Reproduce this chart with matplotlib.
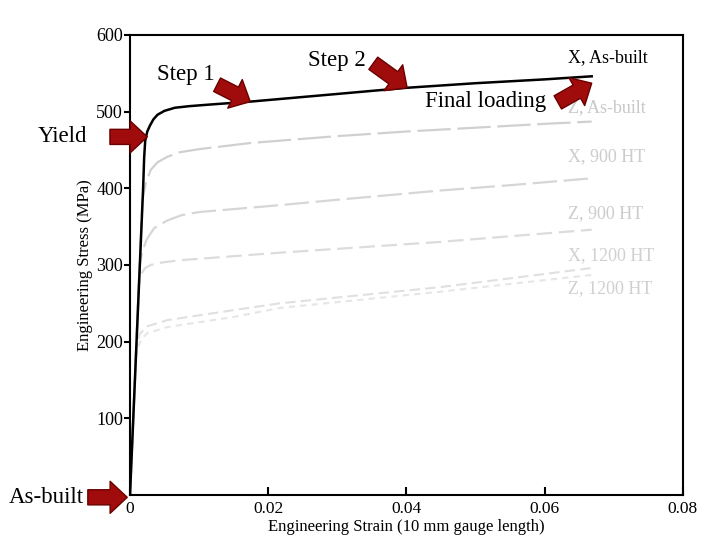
import matplotlib

matplotlib.use("Agg")
import matplotlib.pyplot as plt

plt.rcParams["font.family"] = ["Liberation Serif", "DejaVu Serif"]

# strain / stress (MPa)
x_asb_strain = [0, 0.0019, 0.00205, 0.0022, 0.0025, 0.0029, 0.0034, 0.004, 0.005, 0.0065, 0.0085,
                0.0113, 0.0174, 0.03, 0.04, 0.05, 0.06, 0.0668]
x_asb_stress = [0, 400, 440, 462, 474, 482, 490, 496, 501, 505, 507, 509, 513, 523, 531, 537, 542, 546]

z_asb_strain = [0, 0.0018, 0.0023, 0.003, 0.004, 0.0054, 0.0072, 0.01, 0.0174, 0.03, 0.04, 0.05, 0.06, 0.0668]
z_asb_stress = [0, 385, 407, 424, 434, 441, 447, 451, 459, 468, 474, 479, 484, 487]

x_900_strain = [0, 0.0014, 0.0018, 0.0024, 0.0035, 0.0054, 0.0075, 0.01, 0.0217, 0.03, 0.0448, 0.055, 0.0668]
x_900_stress = [0, 300, 318, 333, 348, 358, 365, 369, 378, 385, 397, 404, 413]

z_900_strain = [0, 0.0013, 0.0016, 0.0022, 0.003, 0.0045, 0.007, 0.0217, 0.0448, 0.0668]
z_900_stress = [0, 275, 288, 296, 300, 303, 306, 316, 330, 346]

x_1200_strain = [0, 0.0009, 0.0014, 0.0025, 0.0054, 0.0149, 0.0217, 0.0448, 0.0668]
x_1200_stress = [0, 190, 210, 220, 228, 241, 250, 271, 296]

z_1200_strain = [0, 0.0009, 0.0012, 0.0016, 0.0025, 0.0054, 0.0149, 0.0217, 0.0448, 0.0668]
z_1200_stress = [0, 180, 193, 203, 211, 219, 232, 244, 265, 287]

curve_labels = ["X, As-built", "Z, As-built", "X, 900 HT", "Z, 900 HT", "X, 1200 HT", "Z, 1200 HT"]
label_stress = [571, 505, 441, 367, 312, 269]

x_ticks = [0, 0.02, 0.04, 0.06, 0.08]
x_tick_labels = ["0", "0.02", "0.04", "0.06", "0.08"]
y_ticks = [100, 200, 300, 400, 500, 600]

ARROW_FC = "#a00c0c"
ARROW_EC = "#6a0000"

fig = plt.figure(figsize=(7.08, 5.41), dpi=100)
ax = fig.add_axes([0.1836, 0.085, 0.781, 0.8505])

ax.plot(z_1200_strain, z_1200_stress, color="#e6e6e6", lw=1.5, dashes=(3, 2.5))
ax.plot(x_1200_strain, x_1200_stress, color="#e0e0e0", lw=1.5, dashes=(5, 2.5))
ax.plot(z_900_strain, z_900_stress, color="#dcdcdc", lw=1.6, dashes=(7, 3))
ax.plot(x_900_strain, x_900_stress, color="#d6d6d6", lw=1.6, dashes=(11, 3))
ax.plot(z_asb_strain, z_asb_stress, color="#d0d0d0", lw=1.6, dashes=(15, 3))
ax.plot(x_asb_strain, x_asb_stress, color="black", lw=1.8)

label_colors = ["black", "#c8c8c8", "#cccccc", "#cccccc", "#d0d0d0", "#d0d0d0"]
for name, s, c in zip(curve_labels, label_stress, label_colors):
    ax.text(0.0634, s, name, color=c, fontsize=13, va="center", ha="left")

ax.set_xlim(0, 0.08)
ax.set_ylim(0, 600)
ax.set_xticks(x_ticks)
ax.set_xticklabels(x_tick_labels)
ax.set_yticks(y_ticks)
ax.tick_params(axis="x", direction="in", length=6, width=1.5, labelsize=12.5, pad=4)
ax.tick_params(axis="y", direction="out", length=4, width=1.5, labelsize=13, pad=1)
for sp in ax.spines.values():
    sp.set_linewidth(1.5)

ax.set_xlabel("Engineering Strain (10 mm gauge length)", fontsize=12, labelpad=2)
ax.set_ylabel("Engineering Stress (MPa)", fontsize=12)
ax.yaxis.set_label_coords(-0.066, 0.5)

arrow = dict(arrowstyle="simple,head_width=1.44,head_length=0.77,tail_width=0.68",
             fc=ARROW_FC, ec=ARROW_EC, lw=1.0, shrinkA=0, shrinkB=0, mutation_scale=16)

# (text, text position, arrow tail, arrow head) in data units
notes = [
    ("Yield", (-0.0133, 467), (-0.0029, 467), (0.0025, 467)),
    ("Step 1", (0.0039, 549), (0.0126, 535), (0.0174, 513)),
    ("Step 2", (0.0257, 566), (0.0352, 563), (0.0401, 531)),
    ("Final loading", (0.0427, 513), (0.0619, 512), (0.0668, 537)),
    ("As-built", (-0.0176, -3), (-0.0061, -3), (-0.0004, -3)),
]
for txt, tpos, tail, head in notes:
    ax.annotate("", xy=head, xytext=tail, arrowprops=arrow, annotation_clip=False)
    ax.text(tpos[0], tpos[1], txt, fontsize=16.5, va="center", ha="left", clip_on=False)

fig.savefig("out.png", dpi=100)
